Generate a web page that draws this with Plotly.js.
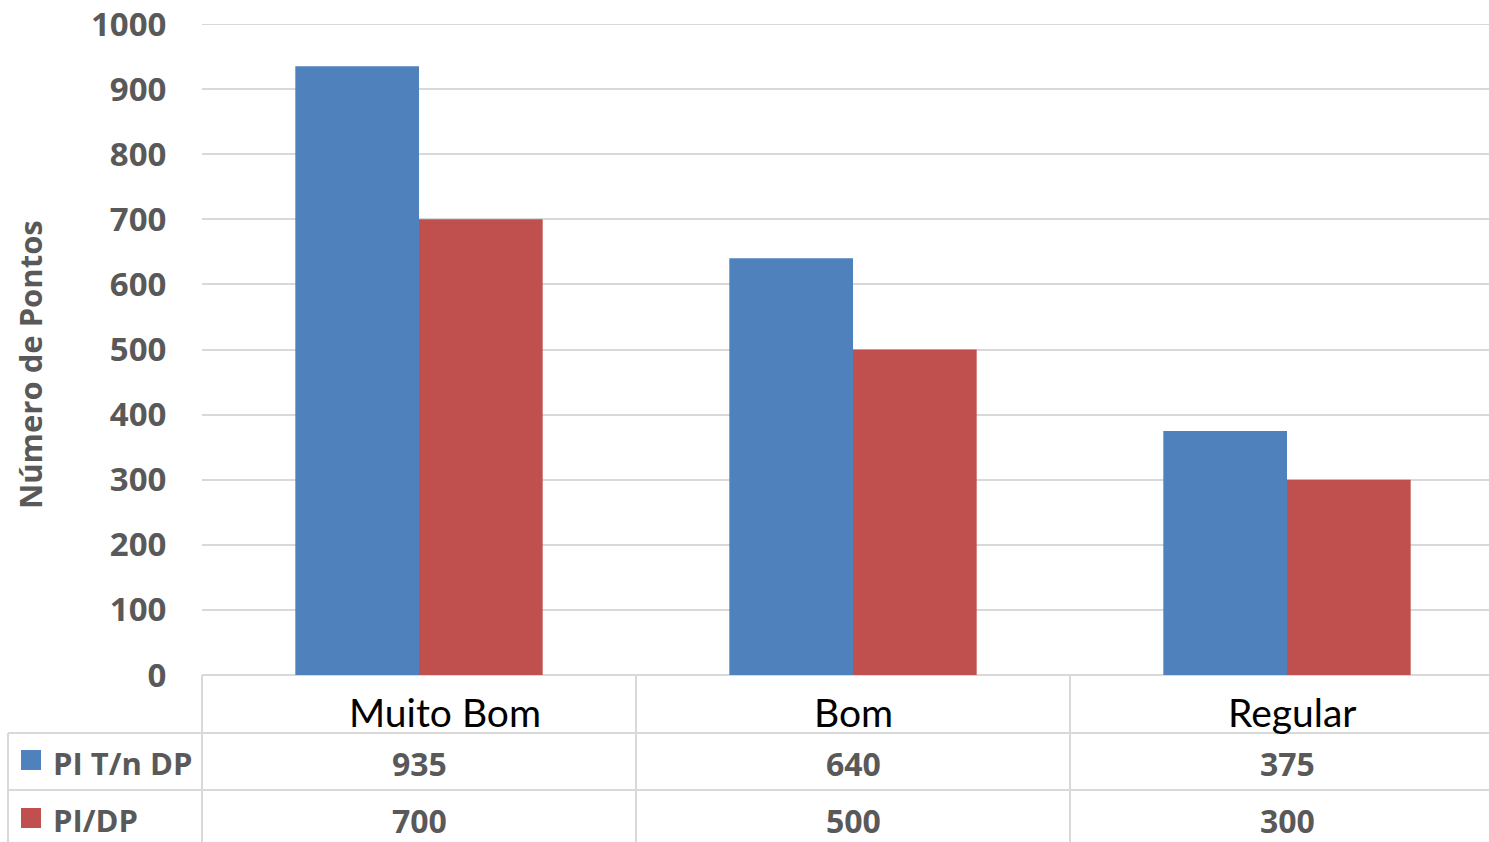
<!DOCTYPE html>
<html>
<head>
<meta charset="utf-8">
<script src="https://cdn.plot.ly/plotly-3.0.1.min.js"></script>
<style>
  html, body { margin: 0; padding: 0; background: #ffffff; }
  #chart { width: 1489px; height: 842px; }
</style>
</head>
<body>
<div id="chart"></div>
<script>
// Categories and series values
const categories = ['Muito Bom', 'Bom', 'Regular'];
const seriesNames = ['PI T/n DP', 'PI/DP'];
const piTnDp = [935, 640, 375];
const piDp = [700, 500, 300];
const yTicks = [0, 100, 200, 300, 400, 500, 600, 700, 800, 900, 1000];

const colors = ['#4F81BD', '#C0504D'];
const gridColor = '#D9D9D9';
const textGray = '#595959';
const catFont = 'Lato, "Open Sans", sans-serif';
const boldFont = '"Open Sans", Lato, sans-serif';

const W = 1489, H = 842;
const M = { l: 202, r: 0, t: 24, b: 167 };
const plotW = W - M.l - M.r;
const plotH = H - M.t - M.b;
const catW = 434; // pixel width of one category slot
const yMax = 1000;

// pixel -> paper helpers for the data table drawn under the plot
const px = v => (v - M.l) / plotW;
const py = v => (H - M.b - v) / plotH;

const xIdx = categories.map((_, i) => i);

const traces = [piTnDp, piDp].map((vals, k) => ({
  type: 'bar',
  x: xIdx,
  y: vals,
  name: seriesNames[k],
  marker: { color: colors[k], line: { width: 0 } },
  hoverinfo: 'x+y+name'
}));

const shapes = [];
const line = (x0, y0, x1, y1) => shapes.push({
  type: 'line', xref: 'paper', yref: 'paper',
  x0, y0, x1, y1, line: { color: gridColor, width: 2 }
});
// top gridline (range edge)
shapes.push({
  type: 'line', xref: 'paper', yref: 'y', x0: 0, x1: 1, y0: yMax, y1: yMax,
  line: { color: gridColor, width: 2 }
});
// table horizontal rules
line(px(8), py(733), px(W), py(733));
line(px(8), py(790), px(W), py(790));
// table vertical rules
line(px(202), py(675), px(202), py(H + 5));
line(px(8), py(733), px(8), py(H + 5));
for (let i = 0; i < categories.length - 1; i++) {
  shapes.push({
    type: 'line', xref: 'x', yref: 'paper',
    x0: i + 0.5, x1: i + 0.5, y0: py(675), y1: py(H + 5),
    line: { color: gridColor, width: 2 }
  });
}
// legend keys in the table's first column
const keyRows = [[750, 770], [808, 828]];
keyRows.forEach((r, k) => shapes.push({
  type: 'rect', xref: 'paper', yref: 'paper',
  x0: px(21), x1: px(41), y0: py(r[1]), y1: py(r[0]),
  fillcolor: colors[k], line: { width: 0 }
}));

const annotations = [];
// category names in the table header row
const catShift = [26, 0, 5];
categories.forEach((c, i) => annotations.push({
  x: i, xref: 'x', y: py(712), yref: 'paper', xshift: catShift[i],
  text: c, showarrow: false, xanchor: 'center', yanchor: 'middle',
  font: { family: catFont, size: 39, color: '#000000' }
}));
// series rows: name + values
const rowY = [763, 820];
[piTnDp, piDp].forEach((vals, k) => {
  annotations.push({
    x: px(51), xref: 'paper', y: py(rowY[k]), yref: 'paper',
    text: '<b>' + seriesNames[k] + '</b>', showarrow: false,
    xanchor: 'left', yanchor: 'middle',
    font: { family: boldFont, size: 31, color: textGray }
  });
  vals.forEach((v, i) => annotations.push({
    x: i, xref: 'x', y: py(rowY[k]), yref: 'paper',
    text: '<b>' + v + '</b>', showarrow: false,
    xanchor: 'center', yanchor: 'middle',
    font: { family: boldFont, size: 32, color: textGray }
  }));
});
// y axis title
annotations.push({
  x: px(30), xref: 'paper', y: py(365), yref: 'paper',
  text: '<b>Número de Pontos</b>', showarrow: false, textangle: -90,
  xanchor: 'center', yanchor: 'middle',
  font: { family: boldFont, size: 31, color: textGray }
});

const layout = {
  width: W, height: H,
  margin: M,
  paper_bgcolor: '#ffffff',
  plot_bgcolor: '#ffffff',
  showlegend: false,
  barmode: 'group',
  bargap: 0.43,
  bargroupgap: 0,
  xaxis: {
    range: [-0.5, -0.5 + plotW / catW],
    showticklabels: false,
    showgrid: false,
    zeroline: false,
    showline: false,
    ticks: '',
    fixedrange: true
  },
  yaxis: {
    range: [0, yMax],
    tickvals: yTicks,
    ticktext: yTicks.map(v => '<b>' + v + '</b>'),
    showgrid: true,
    gridcolor: gridColor,
    gridwidth: 2,
    zeroline: true,
    zerolinecolor: gridColor,
    zerolinewidth: 2,
    showline: false,
    ticks: 'outside',
    ticklen: 28,
    tickcolor: 'rgba(0,0,0,0)',
    tickfont: { family: boldFont, size: 33, color: textGray },
    fixedrange: true
  },
  shapes,
  annotations
};

Plotly.newPlot('chart', traces, layout, { displayModeBar: false, staticPlot: true });
</script>
</body>
</html>
